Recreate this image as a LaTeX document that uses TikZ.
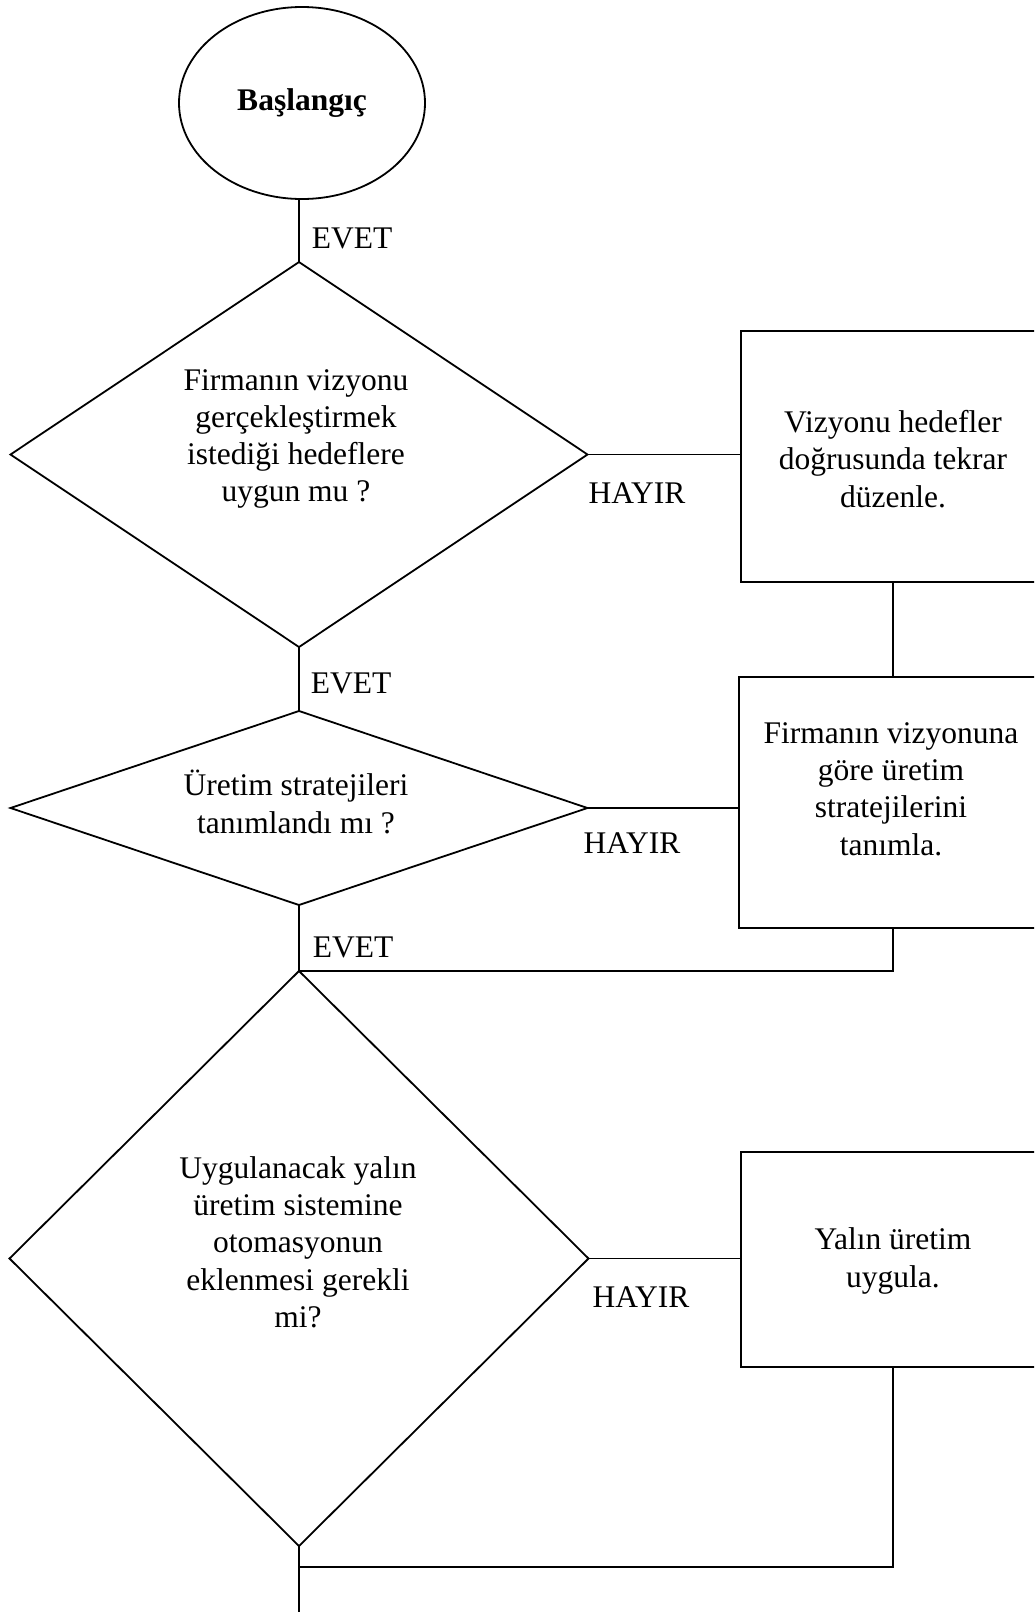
\documentclass[tikz,border=0pt]{standalone}
\usepackage{fontspec}
\setmainfont{Liberation Serif}
\usetikzlibrary{shapes.geometric}
\begin{document}
\begin{tikzpicture}[x=1pt,y=-1pt,
  line width=1.8pt,
  every node/.style={font=\fontsize{31.5}{37.3}\selectfont},
  txt/.style={align=center,inner sep=0pt},
  lbl/.style={inner sep=0pt},
  decision/.style={draw,diamond,inner sep=0pt,outer sep=0pt},
  procbox/.style={draw,rectangle,inner sep=0pt,outer sep=0pt,minimum width=304pt},
  startnode/.style={draw,ellipse,inner sep=0pt,outer sep=0pt,minimum width=246pt,minimum height=192pt}]
\useasboundingbox (0,0) rectangle (1034,1612);
\clip (0,0) rectangle (1034,1612);

% start
\node[startnode] (start) at (302,103) {\textbf{Başlangıç}};

% decisions
\node[decision,minimum width=577pt,minimum height=385pt] (d1) at (299,454.5) {};
\node[txt] (t1) at (296,439) {Firmanın vizyonu\\gerçekleştirmek\\istediği hedeflere\\uygun mu ?};

\node[decision,minimum width=577pt,minimum height=194pt] (d2) at (299,808) {};
\node[txt] (t2) at (296,802) {Üretim stratejileri\\tanımlandı mı ?};

\node[decision,minimum width=579pt,minimum height=575pt] (d3) at (299,1258.5) {};
\node[txt] (t3) at (298,1242) {Uygulanacak yalın\\üretim sistemine\\otomasyonun\\eklenmesi gerekli\\mi?};

% process boxes
\node[procbox,minimum height=251pt] (b1) at (893,456.5) {};
\node[txt] (tb1) at (893,459) {Vizyonu hedefler\\doğrusunda tekrar\\düzenle.};

\node[procbox,minimum height=251pt] (b2) at (891,802.5) {};
\node[txt] (tb2) at (891,789) {Firmanın vizyonuna\\göre üretim\\stratejilerini\\tanımla.};

\node[procbox,minimum height=215pt] (b3) at (893,1259.5) {};
\node[txt] (tb3) at (893,1261) {Yalın üretim\\uygula.};

% free ends
\coordinate (join) at (299,1567);
\coordinate (exit) at (299,1612);

% connectors
\draw (d1.north |- start.south) -- (d1.north);
\draw (d1.south) -- (d2.north);
\draw (d2.south) -- (d3.north);
\draw (d3.south) -- (exit);
\draw (d1.east) -- (d1.east -| b1.west);
\draw (d2.east) -- (d2.east -| b2.west);
\draw (d3.east) -- (d3.east -| b3.west);
\draw (b1.south -| 893,0) -- (b2.north -| 893,0);
\draw (b2.south -| 893,0) |- (d3.north);
\draw (b3.south -| 893,0) |- (join);

% labels
\node[lbl] (e1) at (352,238) {EVET};
\node[lbl] (e2) at (351,683) {EVET};
\node[lbl] (e3) at (353,947) {EVET};
\node[lbl] (h1) at (637,493) {HAYIR};
\node[lbl] (h2) at (632,843) {HAYIR};
\node[lbl] (h3) at (641,1297) {HAYIR};
\end{tikzpicture}
\end{document}
